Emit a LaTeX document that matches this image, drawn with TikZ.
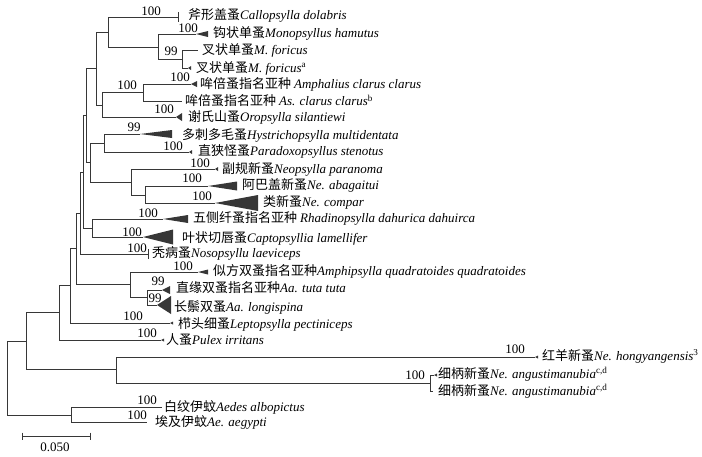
\documentclass[tikz,border=0pt]{standalone}
\usepackage{fontspec}
\setmainfont{Liberation Serif}
\newfontfamily\cjk{Noto Sans CJK SC}
\definecolor{linec}{RGB}{55,55,55}
\newcommand\sptx[2]{{\cjk #1}\textit{#2}}
\newcommand\clade[3]{\fill[linec] (#1) -- ++(#2,-#3) -- ++(0,2*#3) -- cycle;}
\begin{document}
\begin{tikzpicture}[x=1pt,y=-1pt,
  br/.style={draw=linec, line width=0.9pt},
  tx/.style={font=\fontsize{13}{15}\selectfont, inner sep=0pt, anchor=west},
  bs/.style={font=\fontsize{13}{15}\selectfont, inner sep=0pt}]
\useasboundingbox (0,0) rectangle (702,456);
% internal nodes
\coordinate (r) at (7,378);
\coordinate (A) at (26,341);
\coordinate (Aed) at (71,415);
\coordinate (B) at (59,312);
\coordinate (Ne) at (116,369);
\coordinate (C) at (70,285);
\coordinate (D) at (76,248);
\coordinate (E) at (80,213);
\coordinate (F) at (83,172);
\coordinate (G) at (86,115);
\coordinate (H) at (96,68);
\coordinate (I) at (90,162);
\coordinate (J) at (108,32);
\coordinate (K) at (102,105);
\coordinate (L) at (158,47);
\coordinate (M) at (182,59);
\coordinate (N) at (143,92);
\coordinate (O) at (104,143);
\coordinate (P) at (131,182);
\coordinate (Q) at (145,195);
\coordinate (Rh) at (92,228);
\coordinate (Am) at (130,284);
\coordinate (Aa) at (147,297);
% tips
\coordinate (tCallo) at (178,17);
\coordinate (tMono) at (196,34);
\coordinate (tFor) at (198,50);
\coordinate (tForA) at (188,68);
\coordinate (tAmphal) at (191,84);
\coordinate (tClar) at (182,101);
\coordinate (tOro) at (176,117);
\coordinate (tHyst) at (140,134);
\coordinate (tPara) at (189,152);
\coordinate (tParan) at (215,169);
\coordinate (tAbag) at (208,186);
\coordinate (tComp) at (215,203);
\coordinate (tRhad) at (163,219);
\coordinate (tCapt) at (143,237);
\coordinate (tNoso) at (148,254);
\coordinate (tAmphip) at (198,272);
\coordinate (tTuta) at (162,290);
\coordinate (tLongi) at (157,305);
\coordinate (tLepto) at (170,323);
\coordinate (tPulex) at (161,340);
\coordinate (tHong) at (535,357);
\coordinate (tAng) at (430,383);
\coordinate (tAlbo) at (162,407);
\coordinate (tAeg) at (147,422);
% branches
\foreach \p/\c in {r/A, r/Aed, A/B, A/Ne, Aed/tAlbo, Aed/tAeg, B/C, B/tPulex,
  Ne/tHong, Ne/tAng, C/D, C/tLepto, D/E, D/Am, E/F, E/tNoso, F/G, F/Rh,
  G/H, G/I, H/J, H/K, I/O, I/P, J/tCallo, J/L, L/tMono, L/M, M/tFor, M/tForA,
  K/N, K/tOro, N/tAmphal, N/tClar, O/tHyst, O/tPara, P/tParan, P/Q,
  Q/tAbag, Q/tComp, Rh/tRhad, Rh/tCapt, Am/tAmphip, Am/Aa, Aa/tTuta, Aa/tLongi}
  {\draw[br] (\p) |- (\c);}
% collapsed clades
\clade{tMono}{12}{3}
\clade{tForA}{3}{2}
\clade{tAmphal}{6}{3}
\clade{tOro}{6}{4}
\clade{tHyst}{32}{4}
\clade{tPara}{3}{2}
\clade{tParan}{3}{2}
\clade{tAbag}{29}{4.5}
\clade{tComp}{43}{8}
\clade{tRhad}{25}{4}
\clade{tCapt}{30}{7.5}
\clade{tAmphip}{10}{2.5}
\clade{tTuta}{8}{4}
\clade{tLongi}{14}{9}
\clade{tLepto}{3}{1.5}
\clade{tPulex}{3}{1.5}
\clade{tHong}{3}{1.5}
\draw[br] (tCallo) ++(0,-5) -- ++(0,10);
\draw[br] (tNoso) ++(0,-5) -- ++(0,10);
\coordinate (ang1) at (434,375);
\coordinate (ang2) at (433,391);
\draw[br] (tAng) |- (ang1);
\draw[br] (tAng) |- (ang2);
\fill[linec] (ang1) -- ++(3,-1.5) -- ++(0,3) -- cycle;
% taxa
\node[tx] (nCallo) at (188,15) {\sptx{斧形盖蚤}{Callopsylla dolabris}};
\node[tx] (nMono) at (213,33) {\sptx{钩状单蚤}{Monopsyllus hamutus}};
\node[tx] (nFor) at (202,50) {\sptx{叉状单蚤}{M. foricus}};
\node[tx] (nForA) at (196,68) {\sptx{叉状单蚤}{M. foricus}\textsuperscript{a}};
\node[tx] (nAmphal) at (200,84) {\sptx{哞倍蚤指名亚种 }{Amphalius clarus clarus}};
\node[tx] (nClar) at (185,101) {\sptx{哞倍蚤指名亚种 }{As. clarus clarus}\textsuperscript{b}};
\node[tx] (nOro) at (188,117) {\sptx{谢氏山蚤}{Oropsylla silantiewi}};
\node[tx] (nHyst) at (182,135) {\sptx{多刺多毛蚤}{Hystrichopsylla multidentata}};
\node[tx] (nPara) at (198,151) {\sptx{直狭怪蚤}{Paradoxopsyllus stenotus}};
\node[tx] (nParan) at (222,169) {\sptx{副规新蚤}{Neopsylla paranoma}};
\node[tx] (nAbag) at (242,185) {\sptx{阿巴盖新蚤}{Ne. abagaitui}};
\node[tx] (nComp) at (263,202) {\sptx{类新蚤}{Ne. compar}};
\node[tx] (nRhad) at (193,218) {\sptx{五侧纤蚤指名亚种 }{Rhadinopsylla dahurica dahuirca}};
\node[tx] (nCapt) at (182,238) {\sptx{叶状切唇蚤}{Captopsyllia lamellifer}};
\node[tx] (nNoso) at (152,253) {\sptx{秃病蚤}{Nosopsyllu laeviceps}};
\node[tx] (nAmphip) at (213,271) {\sptx{似方双蚤指名亚种}{Amphipsylla quadratoides quadratoides}};
\node[tx] (nTuta) at (176,288) {\sptx{直缘双蚤指名亚种}{Aa. tuta tuta}};
\node[tx] (nLongi) at (174,307) {\sptx{长鬃双蚤}{Aa. longispina}};
\node[tx] (nLepto) at (178,324) {\sptx{栉头细蚤}{Leptopsylla pectiniceps}};
\node[tx] (nPulex) at (166,340) {\sptx{人蚤}{Pulex irritans}};
\node[tx] (nHong) at (542,356) {\sptx{红羊新蚤}{Ne. hongyangensis}\textsuperscript{3}};
\node[tx] (nAng1) at (438,374) {\sptx{细柄新蚤}{Ne. angustimanubia}\textsuperscript{c,d}};
\node[tx] (nAng2) at (438,391) {\sptx{细柄新蚤}{Ne. angustimanubia}\textsuperscript{c,d}};
\node[tx] (nAlbo) at (164,407) {\sptx{白纹伊蚊}{Aedes albopictus}};
\node[tx] (nAeg) at (155,422) {\sptx{埃及伊蚊}{Ae. aegypti}};
% bootstrap values
\node[bs] (b1) at (151,11) {100};
\node[bs] (b2) at (188,28) {100};
\node[bs] (b3) at (171,51) {99};
\node[bs] (b4) at (180,77) {100};
\node[bs] (b5) at (127,85) {100};
\node[bs] (b6) at (164,109) {100};
\node[bs] (b7) at (134,127) {99};
\node[bs] (b8) at (173,146) {100};
\node[bs] (b9) at (200,163) {100};
\node[bs] (b10) at (192,178) {100};
\node[bs] (b11) at (202,196) {100};
\node[bs] (b12) at (148,213) {100};
\node[bs] (b13) at (132,232) {100};
\node[bs] (b14) at (137,248) {100};
\node[bs] (b15) at (183,266) {100};
\node[bs] (b16) at (158,281) {99};
\node[bs] (b17) at (155,298) {99};
\node[bs] (b18) at (133,316) {100};
\node[bs] (b19) at (147,333) {100};
\node[bs] (b20) at (515,349) {100};
\node[bs] (b21) at (415,375) {100};
\node[bs] (b22) at (147,400) {100};
\node[bs] (b23) at (137,415) {100};
% scale bar
\coordinate (sb1) at (22,436);
\coordinate (sb2) at (90,436);
\draw[br] (sb1) -- (sb2);
\draw[br] (sb1) ++(0,-3.5) -- ++(0,7);
\draw[br] (sb2) ++(0,-3.5) -- ++(0,7);
\node[bs] (sbl) at (55,447) {0.050};
\end{tikzpicture}
\end{document}
